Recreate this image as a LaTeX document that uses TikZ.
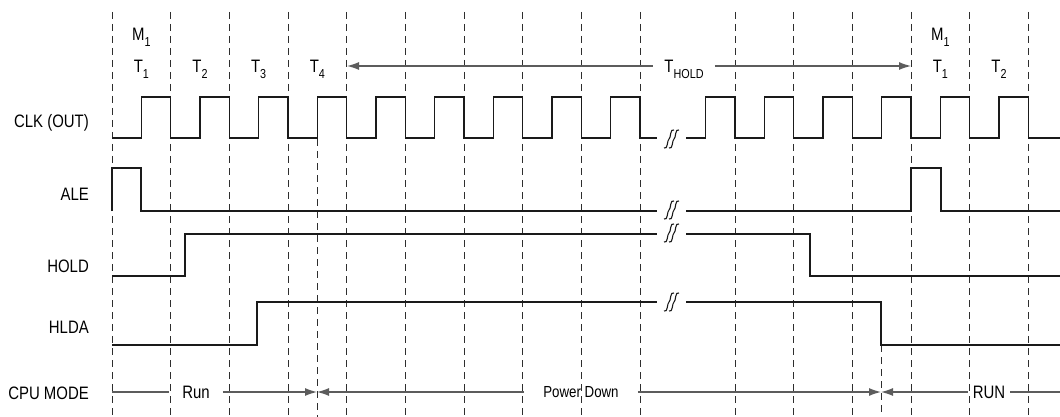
\documentclass[tikz,border=0pt]{standalone}
\usepackage{fontspec}
\setmainfont{Liberation Sans}[FakeStretch=0.83]
\usetikzlibrary{arrows.meta}
\definecolor{sigcol}{HTML}{1A1A1A}
\definecolor{gridcol}{HTML}{2E2E2E}
\definecolor{modecol}{HTML}{5C5C5C}
\newcommand{\lowtxt}[1]{\raisebox{-0.3em}{\fontsize{13}{13}\selectfont #1}}

\begin{document}
\begin{tikzpicture}[x=1pt,y=-1pt,
  sig/.style={draw=sigcol,line width=1.4pt},
  gridline/.style={draw=gridcol,line width=0.9pt,dash pattern=on 7pt off 5pt},
  modeline/.style={draw=modecol,line width=1.2pt},
  arr/.style={-{Latex[length=12pt,width=8pt]}},
  rarr/.style={{Latex[length=12pt,width=8pt]}-},
  lbl/.style={anchor=base east,inner sep=0pt,font=\fontsize{18}{20}\selectfont},
  toplbl/.style={anchor=base,inner sep=0pt,font=\fontsize{18}{20}\selectfont},
  modelbl/.style={inner ysep=0pt,font=\fontsize{18}{20}\selectfont},
  brk/.pic={\draw[sigcol,line width=1.1pt] (-7,9) .. controls (-3,11) and (-4,1) .. (-2,0) .. controls (0,-1) and (-1,-11) .. (3,-9);
            \draw[sigcol,line width=1.1pt] (-2,9) .. controls (2,11) and (1,1) .. (3,0) .. controls (5,-1) and (4,-11) .. (8,-9);}]
\useasboundingbox (0,0) rectangle (1060,417);
\def\p{58.667}
% cycle boundaries
\foreach \i in {0,...,9} \draw[gridline] ({112+\i*\p},12) -- ({112+\i*\p},417);
\foreach \j in {0,...,5} \draw[gridline] ({735+\j*\p},12) -- ({735+\j*\p},417);
\draw[gridline] (317,139) -- (317,417);
\draw[gridline] (881,345) -- (881,417);
% signal names
\node[lbl] (clk) at (89,128) {CLK (OUT)};
\node[lbl] (ale) at (89,200) {ALE};
\node[lbl] (hold) at (89,272) {HOLD};
\node[lbl] (hlda) at (89,333) {HLDA};
\node[lbl] (mode) at (89,399) {CPU MODE};
% states
\node[toplbl] (M1) at ({112+\p/2},41) {M\lowtxt{1}};
\foreach \t/\i in {1/0,2/1,3/2,4/3} \node[toplbl] (T\t) at ({112+\i*\p+\p/2},73) {T\lowtxt{\t}};
\node[toplbl] (M1b) at ({911+\p/2},41) {M\lowtxt{1}};
\node[toplbl] (T1b) at ({911+\p/2},73) {T\lowtxt{1}};
\node[toplbl] (T2b) at ({969.667+\p/2},73) {T\lowtxt{2}};
\node[modelbl,anchor=base,inner xsep=11pt] (thold) at (684,73) {T\lowtxt{HOLD}};
\coordinate (h0) at (347,66); \coordinate (h1) at (911,66);
\draw[modeline,rarr] (h0) -- (thold.west |- h0);
\draw[modeline,arr] (thold.east |- h1) -- (h1);
% CLK
\draw[sig] (112,138) foreach \i in {0,...,8} { -- ({112+\i*\p+\p/2},138) -- ++(0,-41) -- ({112+(\i+1)*\p},97) -- ++(0,41) } -- (657,138);
\draw[sig] (686,138) -- ({735-\p/2},138) -- ++(0,-41) -- (735,97) -- (735,138)
  foreach \j in {0,...,4} { -- ({735+\j*\p+\p/2},138) -- ++(0,-41) -- ({735+(\j+1)*\p},97) -- ++(0,41) } -- (1060,138);
% ALE, HOLD, HLDA
\draw[sig] (112,211) -- (112,168) -- (141,168) -- (141,211) -- (657,211);
\draw[sig] (686,211) -- (911,211) -- (911,168) -- (941,168) -- (941,211) -- (1060,211);
\draw[sig] (112,276) -- (185,276) -- (185,234) -- (657,234);
\draw[sig] (686,234) -- (810,234) -- (810,276) -- (1060,276);
\draw[sig] (112,345) -- (257,345) -- (257,302) -- (657,302);
\draw[sig] (686,302) -- (881,302) -- (881,345) -- (1060,345);
\foreach \y in {139,210,233,302} \pic at (671,\y) {brk};
% CPU mode
\node[modelbl,inner xsep=13pt] (run) at (196,392) {Run};
\node[modelbl,inner xsep=19pt,font=\fontsize{16}{18}\selectfont] (pd) at (581,392) {Power Down};
\node[modelbl,inner xsep=5pt] (run2) at (989,392) {RUN};
\coordinate (m0) at (112,392); \coordinate (ma) at (317,392);
\coordinate (mb) at (881,392); \coordinate (m1) at (1060,392);
\draw[modeline] (m0) -- (run.west);
\draw[modeline,arr] (run.east) -- (ma);
\draw[modeline,arr] (pd.west) -- (ma);
\draw[modeline,arr] (pd.east) -- (mb);
\draw[modeline,arr] (run2.west) -- (mb);
\draw[modeline] (run2.east) -- (m1);
\end{tikzpicture}
\end{document}
